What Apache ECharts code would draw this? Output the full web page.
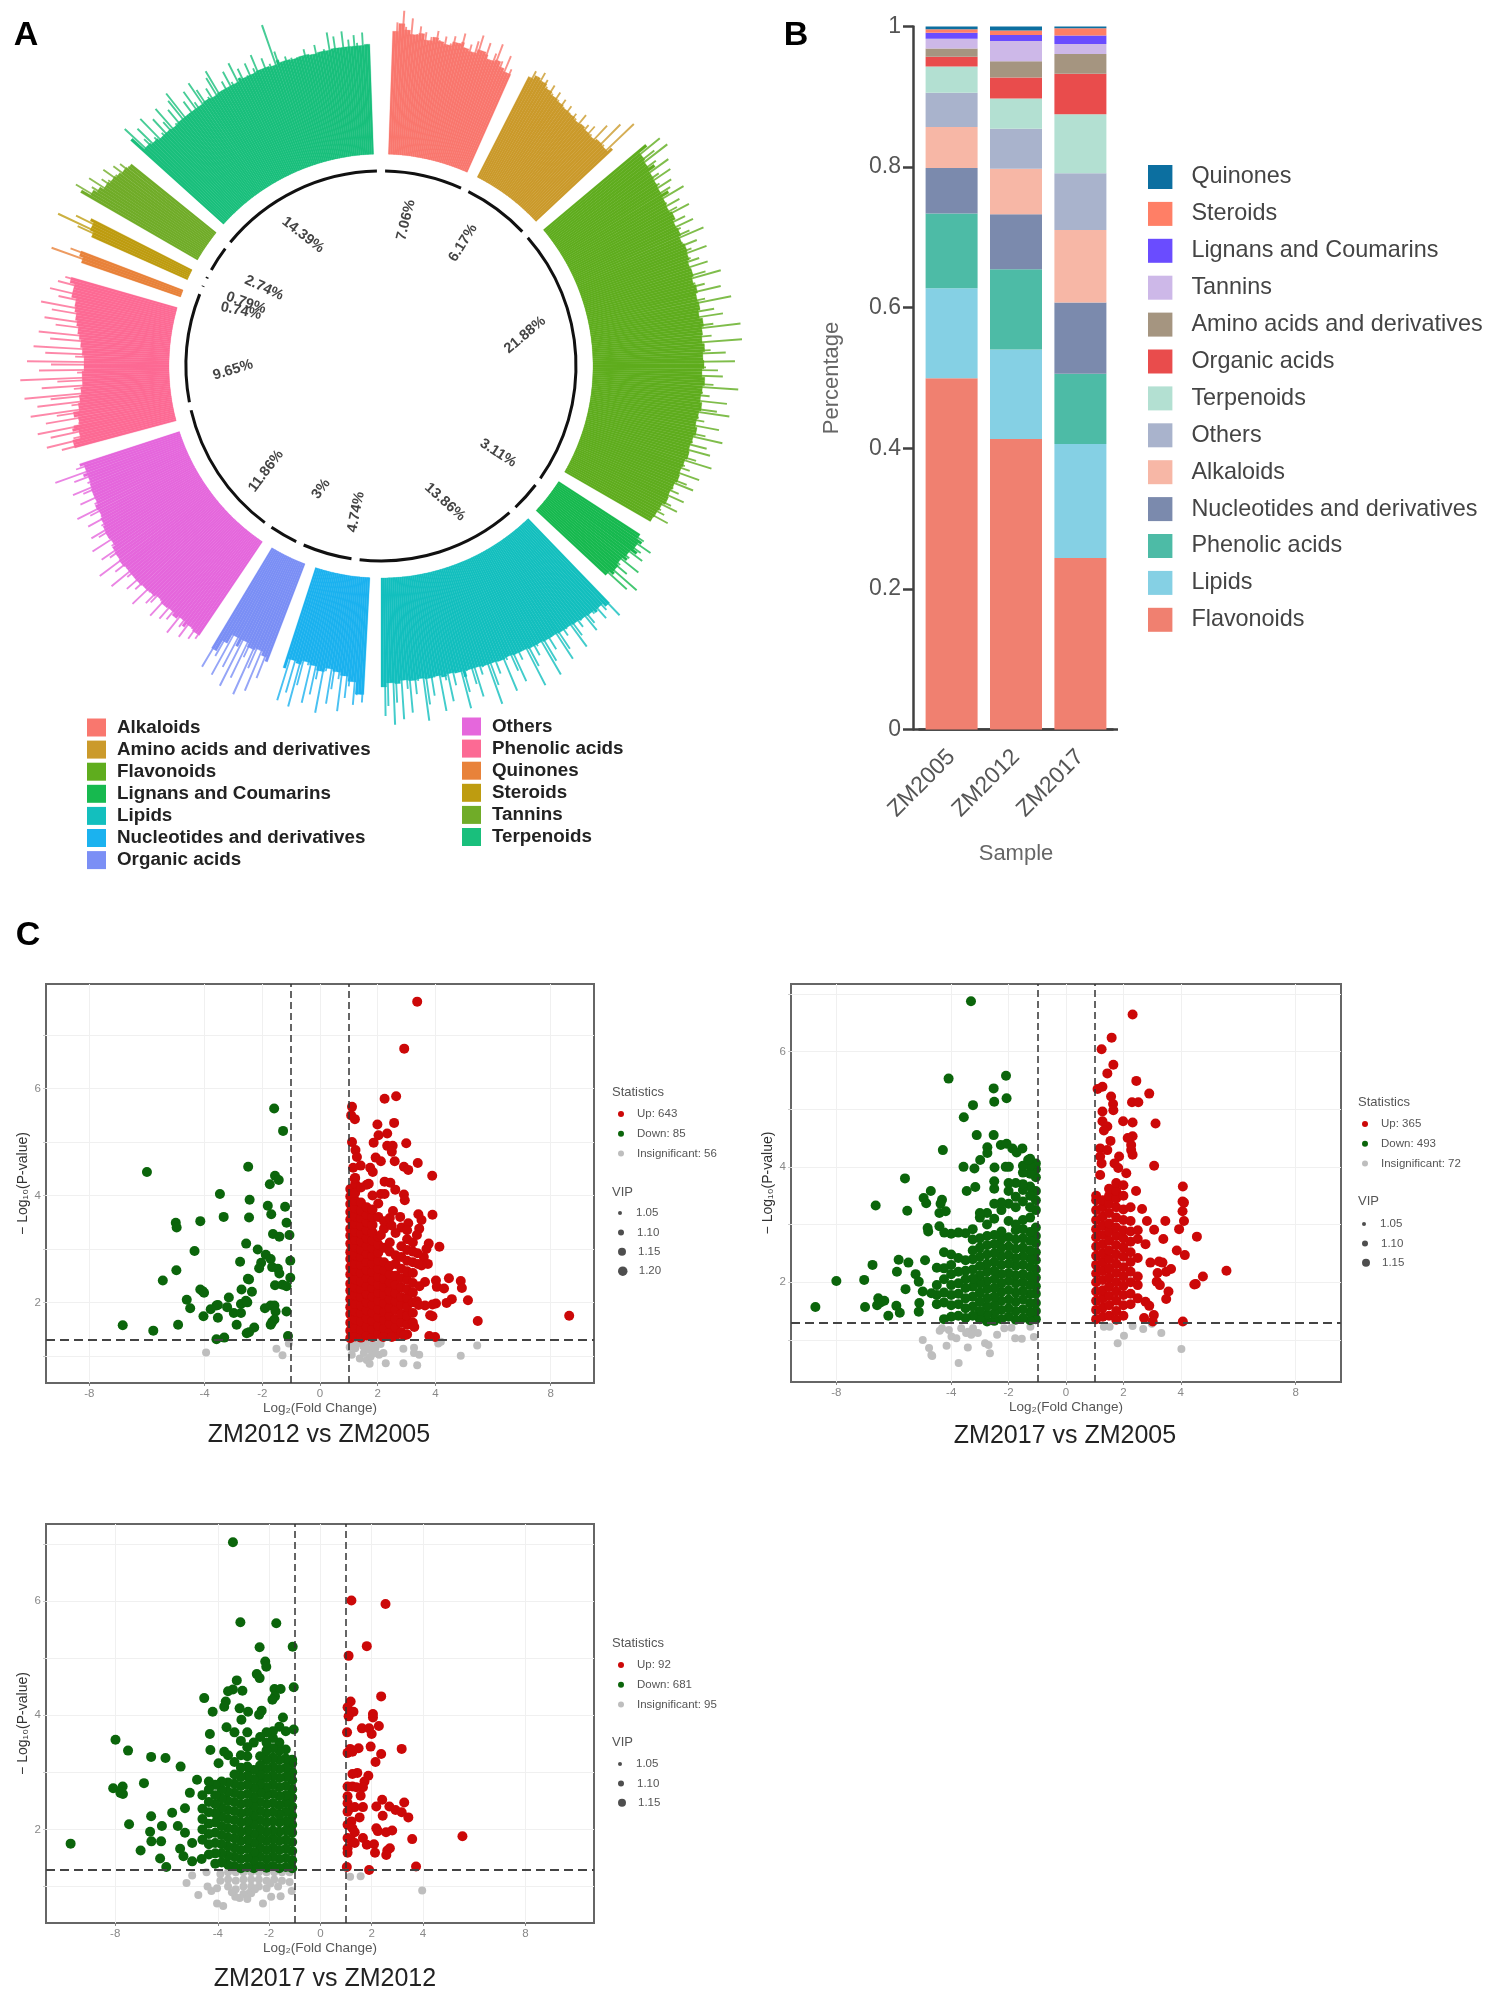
<!DOCTYPE html>
<html><head><meta charset="utf-8"><style>html,body{margin:0;padding:0;background:#fff}#c{width:1497px;height:2003px}</style>
<script src="https://cdn.jsdelivr.net/npm/echarts@6/dist/echarts.min.js"></script></head><body><div id="c"></div>
<script>
const FONT='Liberation Sans';
// ---------- Panel A ----------
const classNames=['Alkaloids','Amino acids and derivatives','Flavonoids','Lignans and Coumarins','Lipids','Nucleotides and derivatives','Organic acids','Others','Phenolic acids','Quinones','Steroids','Tannins','Terpenoids'];
const classColors=['#F9776E','#CB9A2B','#5FAD1E','#17B94F','#13BFBE','#1BB2EF','#7B8FF5','#E567DC','#FC6A94','#E8823A','#BE9C10','#70AC28','#19BF7C'];
const classPercent=[7.06,6.17,21.88,3.11,13.86,4.74,3,11.86,9.65,0.74,0.79,2.74,14.39];
const classStartDeg=[2,27,50,123,136,183,201,214,255,289,294,300,312];
const hAlk=[118,132,126,144,128,120,137,116,122,130,118,125,112,121,116,128,119,113,124,111,118,126,115,120,131,117,112,122,110,127,134,114,118,129,112,108,121,132,110,116,105,124,102,112];
const hAmino=[108,121,116,112,124,110,119,113,106,118,110,103,115,108,101,112,105,99,110,104,98,107,103,96,112,100,97,106,95,109,101,94,118,99,96,128,102,95,138,100];
const hFlav=[128,148,118,136,150,116,131,122,142,114,126,138,113,121,133,112,128,119,140,111,117,130,110,124,136,112,115,127,109,133,118,110,125,139,108,114,128,110,120,135,109,116,124,107,131,112,108,126,141,106,113,122,108,137,111,106,119,145,107,112,126,105,134,110,108,123,150,106,111,120,105,154,112,107,118,133,105,110,142,106,113,125,104,130,109,107,121,146,105,111,118,104,136,108,106,127,140,104,110,116,103,132,107,105,120,138,103,109,124,102,129,106,103,117,134,101,108,114,100,126,104,101,116,124,99,105,112,98,120,101,99,110,118,96,103,108,95,115,99,94];
const hLig=[92,104,98,116,95,108,100,114,93,102,96,118,91,99,110,93,128,95,120,90];
const hLipid=[133,112,120,108,126,110,115,107,122,129,106,112,118,105,124,136,104,110,116,104,128,138,103,108,121,103,131,145,102,109,118,102,127,147,101,106,114,101,135,122,100,108,140,101,104,118,100,128,147,100,106,113,99,134,120,99,105,126,142,99,104,116,98,131,109,100,139,98,104,122,99,130,146,98,105,118,99,136,112,98,142,101,125,147,100,128,138,104];
const hNuc=[125,112,118,128,100,110,122,95,136,104,92,115,130,90,98,141,94,108,124,90,134,96,88,118,141,92,128,90,138,100];
const hOrg=[100,124,96,140,92,118,148,94,110,134,90,146,98,128,90,140,100,122,112,138];
const hOth=[118,108,122,112,106,126,110,118,105,130,112,108,120,105,124,110,106,128,110,104,118,122,106,112,132,107,110,120,108,126,113,108,118,136,108,112,124,109,139,112,108,120,128,107,112,104,131,110,105,118,125,104,110,102,122,106,100,115,128,101,106,98,119,103,98,112,122,97,104,96,116,100,134,96,110,100];
const hPhen=[118,100,132,104,92,126,98,138,96,90,128,94,116,142,88,100,134,86,120,146,84,96,128,82,112,149,82,92,130,80,118,142,80,94,124,82,136,88,84,120,86,132,92,88,116,90,128,96,92,122,94,134,98,95,118,100,128,104,100,122,105,116];
const hQuin=[100,138,104,120];
const hSter=[100,122,145,104,128,108];
const hTan=[130,143,120,128,116,135,112,124,118,110,128,115,108,122,106,118,110,104];
const hTerp=[120,137,104,116,128,102,110,133,100,108,124,100,115,130,99,106,121,100,128,135,100,105,118,100,126,111,100,130,120,101,108,116,100,125,131,101,106,114,101,122,109,101,127,104,118,102,108,120,102,112,125,103,107,118,103,110,102,149,120,106,103,112,103,109,102,108,104,103,114,103,107,102,116,105,103,110,103,126,104,121,104,107,125,104,116,104,120,112,104,122,105,108];
const classHeights=[hAlk,hAmino,hFlav,hLig,hLipid,hNuc,hOrg,hOth,hPhen,hQuin,hSter,hTan,hTerp];
const percentLabels=[['7.06%',406,220,76],['6.17%',463,243,58],['21.88%',525,335,40],['3.11%',498,453,-33],['13.86%',445,502,-42],['4.74%',356,512,79],['3%',321,489,53],['11.86%',266,471,53],['9.65%',233,370,17],['0.74%',241,311,-12],['0.79%',246,303,-19],['2.74%',264,288,-25],['14.39%',303,235,-38]];
// ---------- Panel B ----------
const samples=['ZM2005','ZM2012','ZM2017'];
const stackNames=['Flavonoids','Lipids','Phenolic acids','Nucleotides and derivatives','Alkaloids','Others','Terpenoids','Organic acids','Amino acids and derivatives','Tannins','Lignans and Coumarins','Steroids','Quinones'];
const stackColors=['#F08070','#85D0E4','#4DBBA6','#7B8AAD','#F7B7A6','#A9B3CC','#B3E0D2','#E94C4C','#A59580','#CDB8E8','#6A4CFF','#FF7F66','#0C6FA0'];
const stackZM2005=[.4996,.1279,.1065,.0646,.0584,.0487,.0375,.0136,.012,.0136,.0088,.0048,.004];
const stackZM2012=[.4133,.1271,.1143,.0783,.0648,.0567,.0432,.0296,.0231,.0288,.0088,.0064,.0056];
const stackZM2017=[.2438,.1623,.0999,.1015,.1031,.0808,.0839,.0576,.0279,.0144,.012,.0104,.0024];
// ---------- Panel C: outliers are flat x,y pairs, dense zones are columns [x, y, y, ...] ----------
const c1Down=[-1.59,5.63,-1.28,5.21,-6,4.44,-2.49,4.54,-1.56,4.37,-1.43,4.29,-1.74,4.21,-3.47,4.03,-2.44,3.92,-1.81,3.81,-1.21,3.79,-1.69,3.65,-3.34,3.6,-2.46,3.59,-4.15,3.52,-5,3.49,-4.97,3.4,-1.16,3.49,-1.63,3.28,-1.41,3.23,-1.06,3.26,-2.56,3.1,-2.16,2.99,-4.35,2.96,-1.88,2.89,-1.71,2.81,-1.03,2.78,-2.77,2.76,-2.04,2.74,-2.11,2.64,-1.66,2.66,-1.46,2.63,-1.41,2.54,-4.98,2.6,-1.03,2.46,-5.45,2.41,-2.46,2.43,-2.5,2.44,-1.56,2.32,-1.3,2.33,-1.16,2.3,-2.72,2.24,-2.36,2.2,-4.15,2.24,-4.07,2.21,-4.02,2.18,-3.16,2.09,-4.62,2.05,-2.74,1.97,-2.57,2.03,-2.52,2,-3.59,1.94,-3.54,1.95,-3.22,1.91,-4.5,1.89,-3.79,1.87,-2.99,1.8,-2.74,1.8,-1.91,1.89,-1.71,1.94,-1.58,1.94,-1.54,1.83,-1.16,1.83,-4.04,1.74,-3.54,1.71,-1.58,1.68,-1.66,1.63,-1.71,1.58,-6.84,1.57,-4.92,1.58,-2.89,1.58,-2.28,1.53,-5.78,1.47,-2.54,1.42,-2.46,1.44,-3.32,1.34,-3.59,1.31,-1.11,1.37];
const c1Up=[3.37,7.63,2.92,6.75,2.64,5.86,2.24,5.81,1.11,5.66,1.08,5.5,1.21,5.43,1.99,5.33,2.57,5.36,2.33,5.16,2.03,5.13,1.86,4.99,1.11,5,2.99,4.98,2.33,4.93,2.52,4.93,2.49,4.82,1.23,4.85,1.28,4.72,1.93,4.71,2.11,4.64,2.59,4.64,3.39,4.61,2.91,4.54,3.06,4.48,1.41,4.56,1.15,4.52,1.74,4.52,1.83,4.44,3.89,4.37,2.24,4.26,2.44,4.24,1.2,4.32,1.69,4.22,2.61,4.11,2.91,4.02,2.94,3.91,2.11,4.03,2.24,4.03,3.41,3.65,3.9,3.64,2.53,3.71,2.78,3.6,3.52,3.54,3.06,3.48,2.48,3.44,3.44,3.38,3.02,3.35,3.36,3.26,2.11,3.26,3.77,3.1,4.14,3.04,3.69,3,3.6,2.85,3.74,2.72,3.52,2.69,4.47,2.45,4.88,2.4,4.92,2.27,4.02,2.41,3.64,2.38,4.05,2.29,4.3,2.26,4.57,2.06,5.13,2.04,4.39,1.99,4.02,1.98,3.9,1.96,3.64,1.94,3.36,2.02,8.64,1.75,5.47,1.65,3.9,1.74,3.82,1.76,3.27,1.54,3.79,1.37,3.99,1.35,2.91,1.38,2.19,1.35,2.49,1.35,3.42,1.95,3.45,2.3,3.4,2.72,3.38,2.92];
const c1UpDense=[[1.05,1.33,1.47,1.62,1.78,1.91,2.06,2.22,2.35,2.52,2.66,2.81,2.94,3.1,3.25,3.38,3.55,3.69,3.84,3.98,4.12],[1.22,1.36,1.52,1.68,1.83,1.97,2.13,2.28,2.43,2.59,2.72,2.88,3.03,3.17,3.32,3.47,3.61,3.76,3.9,4.05,4.22,4.33],[1.42,1.34,1.49,1.64,1.8,1.94,2.1,2.25,2.39,2.55,2.7,2.85,2.99,3.14,3.29,3.43,3.58,3.72,3.87,4.15],[1.62,1.38,1.54,1.7,1.85,2,2.15,2.31,2.46,2.6,2.76,2.91,3.06,3.2,3.35,3.5,3.64,3.78,4.2],[1.82,1.35,1.5,1.65,1.81,1.96,2.11,2.27,2.41,2.57,2.73,2.87,3.02,3.16,3.31,3.45,3.6,3.74,4],[2.02,1.41,1.56,1.72,1.87,2.03,2.18,2.33,2.48,2.63,2.78,2.93,3.08,3.23,3.6,3.85],[2.22,1.36,1.51,1.67,1.82,1.98,2.14,2.29,2.44,2.6,2.75,3.02,3.38,3.52],[2.42,1.44,1.6,1.75,1.9,2.06,2.21,2.37,2.52,2.68,2.95,3.12,3.58],[2.62,1.37,1.53,1.69,1.86,2.02,2.17,2.33,2.5,2.72,2.88,3.3],[2.82,1.44,1.62,1.78,1.95,2.1,2.28,2.45,2.63,2.85,3.05,3.4],[3.02,1.4,1.58,1.75,1.92,2.08,2.24,2.42,2.58,2.78,2.98,3.18],[3.22,1.62,1.8,2,2.18,2.36,2.55,2.75,2.95,3.12]];
const c1Grey=[-3.95,1.06,-1.51,1.13,-1.3,1.01,-1.08,1.23,1.03,1.16,2.89,1.13,2.89,.86,3.26,1.15,3.26,1.05,3.44,1.02,3.37,.82,2.28,.86,4.1,1.23,4.19,1.26,4.88,1,5.45,1.19,1.1,1.24,1.1,1.02,1.22,1.14,1.35,1.24,1.38,.95,1.5,1.18,1.52,1.05,1.62,1.25,1.62,.92,1.7,1.12,1.75,.98,1.85,1.22,1.85,1.04,1.92,1.14,2.05,1.02,2.1,1.22,2.2,1.05,1.72,.85,2.1,1.28];
const c2Down=[-3.31,6.87,-2.09,5.58,-4.09,5.53,-2.52,5.36,-2.07,5.19,-2.5,5.13,-3.24,5.07,-3.56,4.86,-3.11,4.55,-2.52,4.55,-4.29,4.29,-2.74,4.34,-2.74,4.24,-2.27,4.38,-2.07,4.4,-1.87,4.32,-1.52,4.32,-1.72,4.25,-2.99,4.12,-3.57,4,-3.19,3.97,-2.49,3.99,-2.1,4,-1.99,4,-1.32,4.12,-5.61,3.8,-4.71,3.58,-3.46,3.58,-3.16,3.65,-4.96,3.46,-4.87,3.37,-4.32,3.43,-4.37,3.36,-6.63,3.33,-5.53,3.24,-4.41,3.2,-4.19,3.23,-8,2.02,-7.03,2.04,-6.74,2.3,-5.83,2.39,-5.89,2.18,-5.49,2.34,-4.91,2.38,-5.24,2.14,-5.13,2.01,-5.59,1.88,-8.73,1.57,-7,1.57,-6.54,1.72,-6.33,1.68,-6.58,1.6,-6.46,1.65,-5.91,1.59,-5.79,1.47,-6.19,1.42,-5.13,1.49,-5.11,1.64,-4.82,2.94,-4.8,2.88,-4.41,2.97,-4.24,2.86,-4.99,1.84,-4.69,1.81];
const c2DownDense=[[-1.05,1.36,1.5,1.64,1.8,1.93,2.08,2.22,2.38,2.52,2.68,2.8,2.95,3.25,3.42,3.58,3.82,3.96,4.06],[-1.25,1.34,1.48,1.63,1.79,1.95,2.1,2.26,2.41,2.55,2.72,2.87,3.12,3.3,3.5,3.66,3.88,4.02,4.14],[-1.5,1.38,1.53,1.7,1.85,2,2.14,2.3,2.45,2.6,2.76,2.92,3.08,3.4,3.6,3.7,3.9,4.02],[-1.75,1.35,1.5,1.66,1.82,1.98,2.12,2.28,2.42,2.58,2.74,2.9,3,3.3,3.48,3.72],[-2,1.4,1.55,1.7,1.86,2.02,2.16,2.32,2.47,2.62,2.78,3.06,3.36,3.58,3.72],[-2.25,1.36,1.52,1.68,1.83,1.98,2.14,2.3,2.45,2.6,2.75,2.88,3.25,3.38],[-2.5,1.33,1.46,1.6,1.75,1.9,2.05,2.2,2.35,2.5,2.66,2.82,3.1,3.36,3.62,3.75],[-2.75,1.32,1.44,1.58,1.72,1.88,2.02,2.18,2.32,2.48,2.64,2.8,3.0,3.2],[-3,1.36,1.5,1.66,1.82,1.98,2.12,2.28,2.44,2.6,2.76,3.12,3.2],[-3.25,1.42,1.58,1.75,1.92,2.06,2.22,2.4,2.55,2.74,2.92],[-3.5,1.38,1.55,1.72,1.9,2.05,2.2,2.38,2.85],[-3.75,1.42,1.62,1.8,1.98,2.18,2.42,2.86],[-4,1.4,1.6,1.78,1.95,2.14,2.3,2.48,2.84],[-4.25,1.36,1.65,1.82,2.05,2.24,2.52],[-4.5,1.62,1.78,1.95,2.25]];
const c2Up=[2.32,6.64,1.59,6.24,1.24,6.04,1.65,5.77,1.44,5.62,2.45,5.49,1.27,5.39,1.1,5.35,2.9,5.27,1.57,5.22,2.3,5.12,2.52,5.12,1.64,5.09,1.65,4.98,1.27,4.96,1.99,4.79,2.32,4.77,3.12,4.75,1.27,4.79,1.44,4.7,1.32,4.63,2.32,4.53,2.15,4.5,2.27,4.38,2.27,4.29,2.32,4.21,1.55,4.45,1.19,4.32,1.44,4.29,1.19,4.18,1.85,4.18,3.07,4.02,1.24,4.06,1.69,4.06,1.82,3.98,2.1,3.89,1.19,3.86,2.44,3.58,4.07,3.66,4.06,3.4,4.11,3.38,2.65,3.27,4.06,3.23,3.46,3.06,4.11,3.06,2.82,3.06,3.07,2.91,3.94,2.92,4.56,2.79,3.39,2.75,2.77,2.66,3.86,2.55,4.14,2.47,2.94,2.34,3.24,2.36,3.36,2.34,3.66,2.23,3.49,2.18,3.19,2.16,5.59,2.2,4.77,2.1,4.52,1.97,4.47,1.96,3.16,2.01,3.27,1.95,3.57,1.84,3.49,1.71,2.77,1.66,2.9,1.59,3.06,1.43,2.72,1.38,4.07,1.32,3.02,1.32];
const c2UpDense=[[1.05,1.36,1.52,1.68,1.84,2,2.15,2.3,2.46,2.62,2.78,2.92,3.08,3.25,3.42,3.5],[1.28,1.4,1.56,1.72,1.86,2.04,2.2,2.35,2.5,2.66,2.82,2.98,3.14,3.3,3.42],[1.5,1.42,1.6,1.76,1.92,2.08,2.24,2.4,2.55,2.72,2.88,3.02,3.2,3.36,3.5,3.62],[1.75,1.35,1.5,1.68,1.84,2,2.16,2.32,2.48,2.64,2.8,2.95,3.12,3.3,3.45,3.58,3.72],[2,1.42,1.6,1.78,1.94,2.1,2.26,2.44,2.6,2.76,2.9,3.08,3.26,3.5,3.68],[2.25,1.62,1.8,2,2.18,2.35,2.52,2.7,2.88,3.06,3.3],[2.5,1.72,1.95,2.1,2.42,2.75,2.9]];
const c2Grey=[-4.99,1,-4.77,.86,-4.69,.74,-4.66,.72,-3.74,.6,-4.16,.9,-4.32,1.2,-3.99,1.06,-3.82,1.03,-3.41,1.14,-3.24,1.2,-3.07,1.12,-2.82,.94,-2.7,.91,-2.4,1.09,-2.15,1.2,-1.9,1.21,-1.77,1.03,-1.54,1.02,-1.24,1.23,-1.12,1.05,-3.42,.87,-2.65,.77,1.32,1.23,1.52,1.23,2.32,1.24,2.69,1.19,2.99,1.28,3.32,1.12,2.02,1.07,1.8,.94,4.02,.84,-4.08,1.17,-3.65,1.2,-3.48,1.12,-3.3,1.09,-4.4,1.16];
const c3Down=[-3.41,7.03,-1.72,5.61,-3.12,5.63,-2.37,5.19,-1.08,5.2,-2.15,4.94,-2.11,4.85,-2.48,4.72,-2.37,4.65,-3.26,4.61,-1.79,4.46,-1.55,4.46,-1.04,4.49,-3.04,4.43,-3.41,4.45,-3.6,4.42,-4.53,4.3,-3.69,4.24,-3.75,4.15,-1.77,4.33,-1.87,4.27,-3.15,4.12,-2.82,4.06,-4.2,4.06,-2.29,4.08,-2.39,4.01,-3.08,3.92,-3.66,3.79,-4.31,3.67,-1.46,3.96,-1.04,3.75,-7.99,3.57,-7.5,3.38,-6.6,3.27,-6.04,3.25,-5.45,3.1,-4.29,3.39,-3.75,3.36,-3.97,3.16,-6.88,2.81,-8.08,2.72,-7.71,2.75,-7.8,2.64,-7.7,2.62,-6.6,2.23,-7.46,2.09,-6.18,2.06,-6.64,1.96,-9.74,1.75,-6.21,1.79,-6.59,1.79,-7.01,1.63,-6.25,1.49,-6.01,1.34,-5.78,2.29,-5.28,2.37,-5.56,2.06,-5.28,1.94,-5,1.76,-5.47,1.66,-5.34,1.53,-5,1.44,-4.63,1.48,-5.09,2.64,-4.81,2.87];
const c3DownDense=[[-1.1,1.32,1.46,1.62,1.78,1.94,2.08,2.24,2.4,2.56,2.7,2.86,3,3.16,3.22],[-1.35,1.34,1.5,1.66,1.82,1.98,2.14,2.3,2.46,2.6,2.76,2.92,3.08,3.24,3.4,3.72],[-1.6,1.32,1.48,1.64,1.8,1.96,2.12,2.26,2.42,2.58,2.74,2.9,3.06,3.22,3.38,3.52,3.8],[-1.85,1.36,1.52,1.68,1.84,1.98,2.14,2.3,2.46,2.62,2.78,2.94,3.1,3.26,3.42,3.6,3.72],[-2.1,1.33,1.48,1.64,1.8,1.96,2.12,2.28,2.44,2.6,2.74,2.9,3.06,3.22,3.38,3.52,3.7],[-2.35,1.36,1.52,1.68,1.84,2,2.16,2.32,2.48,2.64,2.8,2.96,3.12,3.28,3.62],[-2.6,1.32,1.46,1.6,1.76,1.92,2.08,2.24,2.4,2.56,2.72,2.88,3.04,3.52],[-2.85,1.34,1.5,1.66,1.82,1.98,2.14,2.3,2.46,2.62,2.78,2.94,3.1,3.28,3.44,3.7],[-3.1,1.32,1.48,1.64,1.8,1.96,2.12,2.28,2.44,2.6,2.76,2.92,3.08,3.3,3.55],[-3.35,1.36,1.52,1.68,1.84,2,2.16,2.32,2.48,2.64,2.8,2.96,3.18,3.7],[-3.6,1.38,1.54,1.7,1.86,2.02,2.18,2.34,2.5,2.66,2.82,3.3],[-3.85,1.42,1.58,1.74,1.9,2.06,2.22,2.38,2.54,2.7,2.84],[-4.1,1.4,1.58,1.76,1.94,2.12,2.28,2.44,2.6,2.78],[-4.35,1.56,1.74,1.92,2.1,2.3,2.48,2.7,2.84],[-4.6,1.82,2,2.18,2.36,2.6]];
const c3Up=[1.21,6.01,2.54,5.95,1.81,5.21,1.1,5.04,2.37,4.33,1.18,4.24,1.06,4.14,1.29,4.06,1.1,3.98,2.05,4.02,2.05,3.96,1.62,3.77,1.9,3.77,2.28,3.81,2,3.67,1.04,3.7,3.17,3.41,1.16,3.41,1.49,3.42,1.96,3.45,1.06,3.34,1.25,3.36,2.37,3.32,2.15,3.18,1.44,2.99,1.25,2.97,1.87,2.94,1.72,2.84,1.66,2.74,1.06,2.75,1.25,2.75,1.4,2.74,1.06,2.58,1.57,2.59,2.41,2.52,1.06,2.46,3.27,2.47,1.16,2.37,1.34,2.39,1.66,2.39,2.18,2.4,2.69,2.4,2.93,2.34,3.17,2.3,1.06,2.31,2.43,2.24,3.43,2.21,1.53,2.21,1.21,2.14,1.06,2.08,1.25,2.02,2.18,2.02,2.24,1.97,2.56,1.95,2.8,1.98,1.34,1.95,1.06,1.85,1.19,1.82,1.66,1.85,5.54,1.88,3.58,1.83,1.34,1.76,1.81,1.73,2.09,1.74,1.06,1.67,2.71,1.67,2.61,1.63,2.13,1.59,2.57,1.55,1.06,1.59,3.73,1.35,1.03,1.34,1.9,1.29];
const c3Grey=[-5.22,1.06,-5,1.19,-4.76,.85,-4.44,1.25,-4.4,1,-4.25,.92,-4.03,.97,-4.03,.7,-3.79,.66,-3.32,.82,-2.76,.89,-2.24,.7,-1.92,.82,-1.55,.83,-1.12,.92,1.16,1.17,1.57,1.18,3.97,.93,-3.9,1.22,-3.9,1.1,-3.6,1.25,-3.6,1.12,-3.6,1,-3.3,1.25,-3.3,1.1,-3.3,.95,-3,1.25,-3,1.12,-3,1,-3,.87,-2.7,1.25,-2.7,1.12,-2.7,1,-2.7,.88,-2.4,1.25,-2.4,1.12,-2.4,1,-2.1,1.25,-2.1,1.1,-2.1,.97,-1.8,1.25,-1.8,1.12,-1.5,1.25,-1.5,1.1,-1.2,1.25,-1.2,1.08,-3.45,.9,-3.15,.8,-2.85,.78,-2.55,.95,-1.95,1.05,-1.65,1];
const xTicks=[-8,-4,-2,0,2,4,8], yLabels=[2,4,6], yGrid=[1,2,3,4,5,6,7];
const vipLevels=['1.05','1.10','1.15','1.20'], vipSizes=[4,6,8,9.5];

const pairs=a=>{const r=[];for(let i=0;i<a.length;i+=2)r.push([a[i],a[i+1]]);return r;};
const cols=a=>{const r=[];a.forEach(c=>c.slice(1).forEach(y=>r.push([c[0],y])));return r;};

const panels=[
 {g:{left:46,top:984,width:548,height:399},xr:[-9.5,9.5],yr:[.49,7.96],down:pairs(c1Down),up:cols(c1UpDense).concat(pairs(c1Up)),grey:pairs(c1Grey),n:['Up: 643','Down: 85','Insignificant: 56'],title:'ZM2012 vs ZM2005',tx:319,ty:1435,lx:613,sy:1092,ly:[1110,1192,1209],vip:4,sx:612},
 {g:{left:791,top:984,width:550,height:398},xr:[-9.58,9.58],yr:[.27,7.17],down:cols(c2DownDense).concat(pairs(c2Down)),up:cols(c2UpDense).concat(pairs(c2Up)),grey:pairs(c2Grey),n:['Up: 365','Down: 493','Insignificant: 72'],title:'ZM2017 vs ZM2005',tx:1065,ty:1436,lx:1357,sy:1102,ly:[1120,1201,1220],vip:3,sx:1358},
 {g:{left:46,top:1524,width:548,height:399},xr:[-10.7,10.67],yr:[.36,7.35],down:cols(c3DownDense).concat(pairs(c3Down)),up:pairs(c3Up),grey:pairs(c3Grey),n:['Up: 92','Down: 681','Insignificant: 95'],title:'ZM2017 vs ZM2012',tx:325,ty:1979,lx:613,sy:1643,ly:[1661,1742,1760],vip:3,sx:612}
];

const series=[],legends=[],titles=[],grids=[],xAxes=[],yAxes=[],graphic=[];
// Panel A: filled base (lowest neighbouring reading) under thin spikes (each reading)
const slots=Array.from({length:720},(_,i)=>i);
classNames.forEach((nm,k)=>{
  const d=new Array(720).fill(null),b=new Array(720).fill(null),h=classHeights[k];
  h.forEach((v,i)=>{const s=classStartDeg[k]*2+i;d[s]=v;b[s]=Math.min(v,h[i-1]===undefined?v:h[i-1],h[i+1]===undefined?v:h[i+1])+5;});
  series.push({type:'bar',coordinateSystem:'polar',polarIndex:0,name:nm,stack:'a',data:b,barWidth:'100%',barCategoryGap:'0%',silent:true,animation:false,
    itemStyle:{color:classColors[k],borderColor:classColors[k],borderWidth:.3}});
  series.push({type:'bar',coordinateSystem:'polar',polarIndex:1,name:nm,stack:'s',data:d,barWidth:'65%',silent:true,animation:false,
    itemStyle:{color:classColors[k],opacity:.8}});
});
series.push({type:'pie',center:[381,366],radius:[193.5,196.5],startAngle:90,padAngle:2.4,silent:true,animation:false,label:{show:false},labelLine:{show:false},
  itemStyle:{color:'#111'},data:classPercent.map(v=>({name:v+'%',value:v}))});
percentLabels.forEach(p=>graphic.push({type:'text',x:p[1],y:p[2],rotation:p[3]*Math.PI/180,silent:true,style:{text:p[0],font:'bold 14.5px "'+FONT+'"',fill:'#444',align:'center',verticalAlign:'middle'}}));
const aLegend=(left,top,names)=>({orient:'vertical',left,top,itemWidth:19,itemHeight:18,itemGap:3.1,icon:'rect',selectedMode:false,data:names.map(n=>({name:n,itemStyle:{borderWidth:0}})),itemStyle:{borderWidth:0},textStyle:{fontFamily:FONT,fontWeight:'bold',fontSize:18.8,color:'#222',padding:[0,0,0,6]}});
legends.push(aLegend(82,713,classNames.slice(0,7)));
legends.push(aLegend(457,712,classNames.slice(7)));
// Panel B
grids.push({left:919.4,top:26.5,width:193.2,height:703});
xAxes.push({type:'category',gridIndex:0,data:samples,name:'Sample',nameLocation:'middle',nameGap:113,nameTextStyle:{fontFamily:FONT,fontSize:22,color:'#666'},
  axisLine:{lineStyle:{color:'#404040',width:2.5}},axisTick:{alignWithLabel:true,length:10,lineStyle:{color:'#404040',width:2.5}},axisLabel:{rotate:45,fontFamily:FONT,fontSize:23,color:'#555',margin:24}});
yAxes.push({type:'value',gridIndex:0,min:0,max:1,interval:.2,offset:6.4,name:'Percentage',nameLocation:'middle',nameGap:70,nameTextStyle:{fontFamily:FONT,fontSize:22,color:'#666'},
  axisLine:{show:true,lineStyle:{color:'#404040',width:2.5}},axisTick:{show:true,length:10,lineStyle:{color:'#404040',width:2.5}},splitLine:{show:false},axisLabel:{fontFamily:FONT,fontSize:23,color:'#555',margin:12}});
stackNames.forEach((nm,k)=>series.push({type:'bar',xAxisIndex:0,yAxisIndex:0,name:nm,stack:'b',barWidth:52,silent:true,animation:false,itemStyle:{color:stackColors[k]},data:[stackZM2005[k],stackZM2012[k],stackZM2017[k]]}));
graphic.push({type:'line',silent:true,shape:{x1:913,y1:729.5,x2:1118,y2:729.5},style:{stroke:'#404040',lineWidth:2.5}});
legends.push({orient:'vertical',left:1143,top:160,itemWidth:24.4,itemHeight:24,itemGap:12.9,icon:'rect',selectedMode:false,
  data:stackNames.slice().reverse().map((nm)=>({name:nm,itemStyle:{color:stackColors[stackNames.indexOf(nm)],borderWidth:0}})),textStyle:{fontFamily:FONT,fontSize:23.4,color:'#444',padding:[0,0,0,14]}});
// Panel C
vipLevels.forEach(v=>series.push({type:'scatter',name:v,xAxisIndex:1,yAxisIndex:1,data:[],itemStyle:{color:'#222'}}));
panels.forEach((p,i)=>{
  const idx=i+1;
  grids.push(Object.assign({show:true,borderColor:'#666',borderWidth:2,backgroundColor:'#fff'},p.g));
  xAxes.push({type:'value',gridIndex:idx,min:p.xr[0],max:p.xr[1],name:'Log₂(Fold Change)',nameLocation:'middle',nameGap:18,nameTextStyle:{fontFamily:FONT,fontSize:13.5,color:'#555'},
    axisLine:{show:false,onZero:false},axisTick:{show:true,length:3,customValues:xTicks,lineStyle:{color:'#888'}},splitLine:{show:true,lineStyle:{color:'#f0f0f0'}},
    axisLabel:{customValues:xTicks,fontFamily:FONT,fontSize:11.5,color:'#888',margin:5,showMinLabel:true,showMaxLabel:true}});
  yAxes.push({type:'value',gridIndex:idx,min:p.yr[0],max:p.yr[1],name:'− Log₁₀(P-value)',nameLocation:'middle',nameGap:16,nameTextStyle:{fontFamily:FONT,fontSize:14,color:'#333'},
    axisLine:{show:false,onZero:false},axisTick:{show:true,length:3,customValues:yGrid,lineStyle:{color:'#ccc'}},splitLine:{show:true,lineStyle:{color:'#f0f0f0'}},
    axisLabel:{customValues:yLabels,fontFamily:FONT,fontSize:11.5,color:'#888',margin:5}});
  const common={type:'scatter',xAxisIndex:idx,yAxisIndex:idx,silent:true,animation:false};
  series.push(Object.assign({},common,{name:p.n[2],symbolSize:8,data:p.grey,itemStyle:{color:'#BEBEBE',opacity:1}}));
  series.push(Object.assign({},common,{name:p.n[1],symbolSize:10,data:p.down,itemStyle:{color:'#0B650B',opacity:1}}));
  series.push(Object.assign({},common,{name:p.n[0],symbolSize:10,data:p.up,itemStyle:{color:'#CC0808',opacity:1},
    markLine:{silent:true,symbol:'none',animation:false,label:{show:false},data:[
      {xAxis:-1,lineStyle:{type:[7,4],color:'#333',width:1.5}},{xAxis:1,lineStyle:{type:[7,4],color:'#333',width:1.5}},{yAxis:1.3,lineStyle:{type:[9,5],color:'#444',width:2}}]}}));
  titles.push({text:p.title,left:p.tx,top:p.ty,padding:0,textAlign:'center',textVerticalAlign:'middle',textStyle:{fontFamily:FONT,fontSize:25,fontWeight:'normal',color:'#222'}});
  titles.push({text:'Statistics',left:p.sx,top:p.sy,padding:0,textVerticalAlign:'middle',textStyle:{fontFamily:FONT,fontSize:13,fontWeight:'normal',color:'#555'}});
  titles.push({text:'VIP',left:p.sx,top:p.ly[1],padding:0,textVerticalAlign:'middle',textStyle:{fontFamily:FONT,fontSize:13,fontWeight:'normal',color:'#555'}});
  legends.push({orient:'vertical',left:p.lx,top:p.ly[0]-7,itemWidth:22,itemHeight:6,itemGap:7.7,icon:'circle',selectedMode:false,data:p.n,textStyle:{fontFamily:FONT,fontSize:11.5,color:'#555'}});
  for(let k=0;k<p.vip;k++){
    legends.push({orient:'vertical',left:p.lx,top:p.ly[2]+k*19.4-7,itemWidth:22,itemHeight:vipSizes[k],icon:'circle',selectedMode:false,data:[vipLevels[k]],textStyle:{fontFamily:FONT,fontSize:11.5,color:'#555'}});
  }
});
[['A',26,36],['B',796,36],['C',28,936]].forEach(t=>titles.push({text:t[0],left:t[1],top:t[2],padding:0,textAlign:'center',textVerticalAlign:'middle',textStyle:{fontFamily:FONT,fontSize:34,fontWeight:'bold',color:'#000'}}));

const chart=echarts.init(document.getElementById('c'),null,{renderer:'canvas',width:1497,height:2003});
chart.setOption({animation:false,backgroundColor:'#fff',title:titles,legend:legends,
  polar:[{center:[381,366],radius:[212,362]},{center:[381,366],radius:[212,362]}],
  radiusAxis:[{polarIndex:0,min:0,max:150,show:false},{polarIndex:1,min:0,max:150,show:false}],
  angleAxis:[{polarIndex:0,type:'category',data:slots,startAngle:90,show:false},{polarIndex:1,type:'category',data:slots,startAngle:90,show:false}],
  grid:grids,xAxis:xAxes,yAxis:yAxes,series:series,graphic:graphic});
</script></body></html>
